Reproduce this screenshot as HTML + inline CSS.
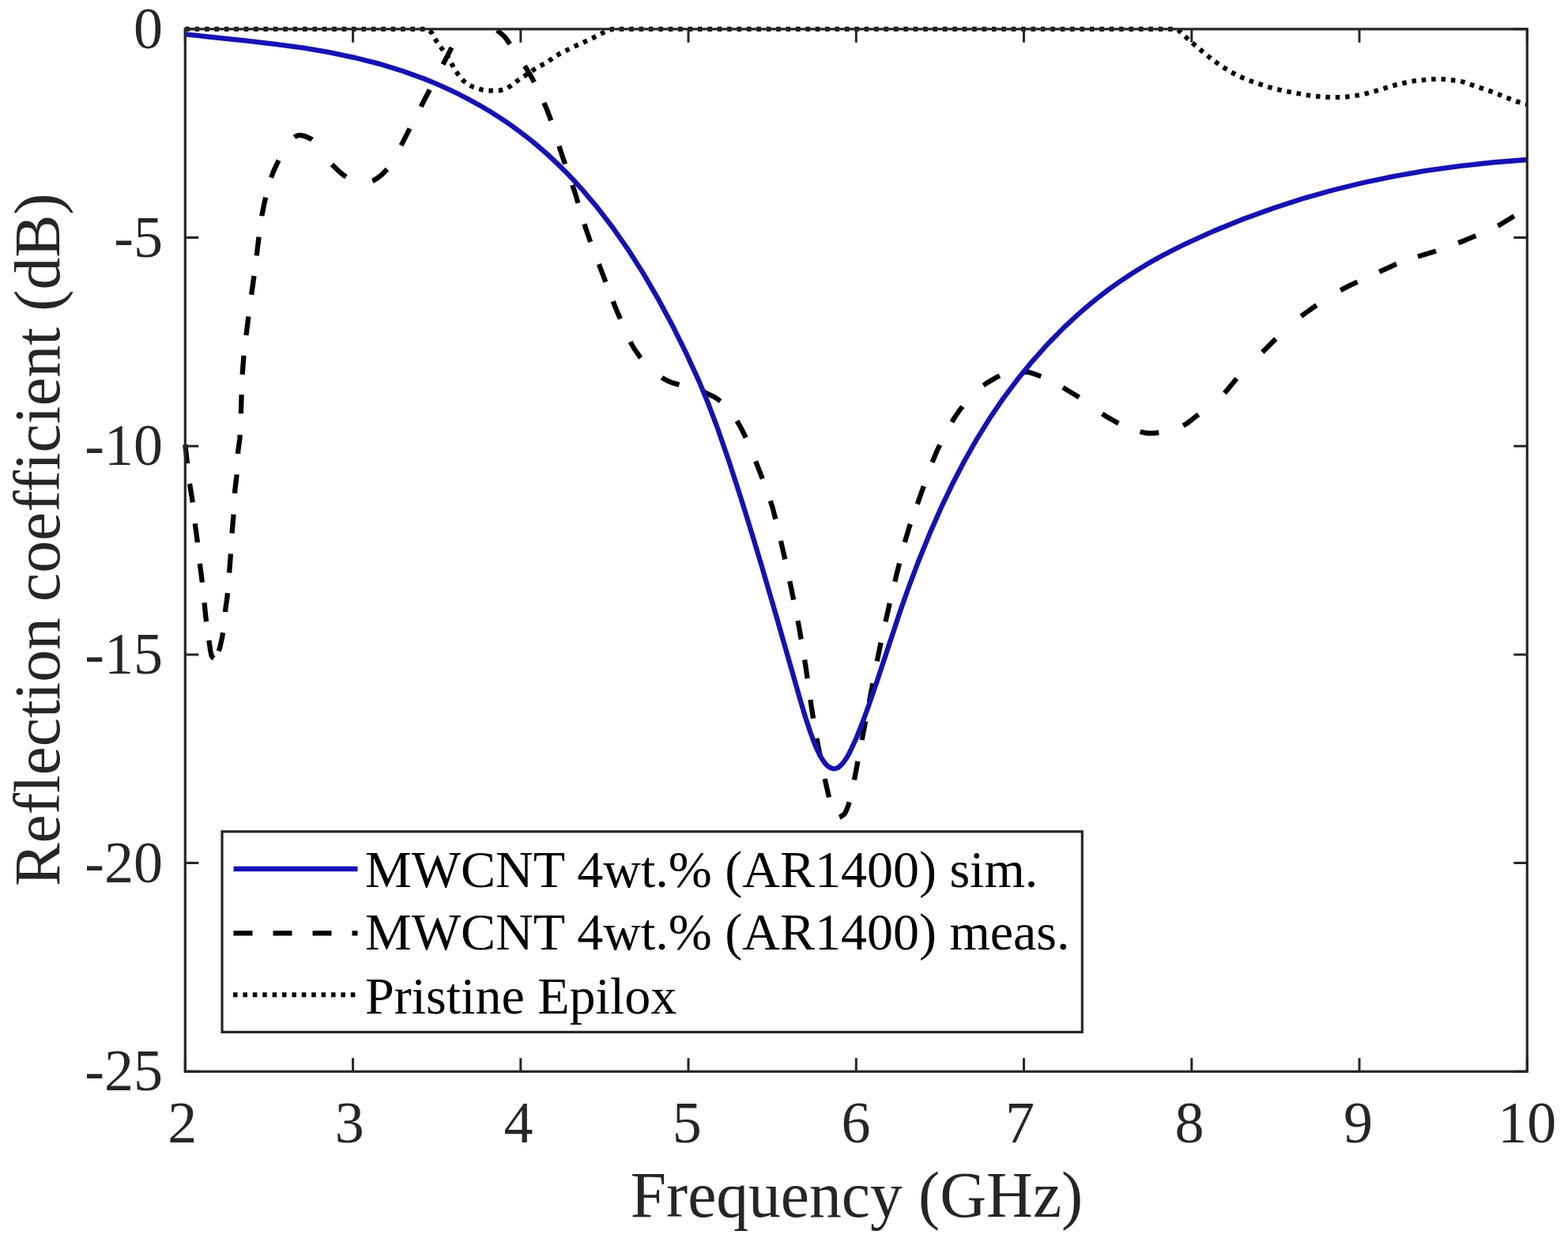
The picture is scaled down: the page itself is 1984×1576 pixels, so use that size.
<!DOCTYPE html>
<html><head><meta charset="utf-8"><title>Reflection coefficient</title>
<style>html,body{margin:0;padding:0;background:#fff;}svg{display:block;}</style>
</head><body><svg width="1984" height="1576" viewBox="0 0 1984 1576"><clipPath id="c"><rect x="230.8" y="36.8" width="1705.0" height="1322.0"/></clipPath><clipPath id="c2"><rect x="230.8" y="33.3" width="1705.0" height="1325.5"/></clipPath><path clip-path="url(#c2)" fill="none" d="M234.3,36.8 L540.3,36.8 L541.3,37.1 L543.3,38.5 L546.3,41.6 L550.3,48.8 L553.3,53.5 L566.3,71.5 L576.3,89.5 L582.3,97.5 L586.3,102.1 L591.3,106.1 L595.3,108.4 L599.3,110.2 L610.3,113.7 L614.3,114.5 L617.3,114.7 L632.3,114.5 L636.3,113.4 L642.3,111.1 L646.3,108.6 L654.3,102.4 L677.3,86.8 L682.3,83.8 L691.3,79.5 L701.3,72.1 L707.3,68.5 L724.3,59.9 L749.3,48.5 L762.3,41.7 L771.3,37.8 L775.3,36.8 L1488.3,36.8 L1489.3,37.1 L1491.3,38.4 L1495.3,42.4 L1513.3,58.3 L1532.3,74.1 L1544.3,82.8 L1557.3,91.0 L1569.3,97.1 L1584.3,103.2 L1605.3,110.2 L1622.3,114.5 L1651.3,119.9 L1663.3,121.7 L1684.3,123.1 L1698.3,123.1 L1711.3,121.6 L1724.3,119.5 L1744.3,114.0 L1764.3,107.8 L1785.3,103.0 L1792.3,102.0 L1809.3,100.4 L1817.3,100.1 L1826.3,100.3 L1844.3,102.0 L1852.3,103.9 L1890.3,117.0 L1916.3,127.5 L1924.3,130.0 L1932.3,132.0" stroke="#000" stroke-width="6" stroke-dasharray="5.5 6.9"/><g clip-path="url(#c)" fill="none" stroke-linejoin="round"><path d="M234.3,562.0 L239.3,607.7 L244.3,638.3 L247.3,666.4 L250.3,688.6 L253.3,716.5 L256.3,739.8 L260.3,780.0 L263.3,803.4 L266.3,823.3 L267.3,828.2 L268.3,830.4 L270.3,832.4 L271.3,832.9 L272.3,832.9 L273.3,832.0 L275.3,827.7 L278.3,818.9 L281.3,805.1 L282.3,798.9 L285.3,770.6 L287.3,757.0 L288.3,747.7 L292.3,696.1 L293.3,677.1 L295.3,653.7 L297.3,619.7 L299.3,603.3 L301.3,569.7 L303.3,555.6 L304.3,541.7 L306.3,478.0 L308.3,451.7 L310.3,433.4 L315.3,393.3 L322.3,342.7 L328.3,294.0 L331.3,272.9 L334.3,257.6 L338.3,240.7 L342.3,227.0 L346.3,216.1 L359.3,188.6 L361.3,184.8 L363.3,181.8 L369.3,175.9 L373.3,172.9 L377.3,171.2 L380.3,171.1 L384.3,171.8 L388.3,173.3 L394.3,176.2 L397.3,178.4 L402.3,184.2 L412.3,198.9 L417.3,205.3 L430.3,218.0 L435.3,222.0 L439.3,224.6 L448.3,229.4 L451.3,230.5 L454.3,231.0 L460.3,230.8 L468.3,229.8 L472.3,228.4 L477.3,225.5 L483.3,220.7 L491.3,212.7 L494.3,209.1 L497.3,204.1 L534.3,131.6 L568.3,66.5 L575.3,52.4 L581.3,38.1 L584.3,32.1 L586.3,29.7 L591.3,25.5 L595.3,23.1 L598.3,22.2 L601.3,22.0 L605.3,22.7 L610.3,24.4 L615.3,26.7 L618.3,28.9 L626.3,36.2 L635.3,43.4 L638.3,46.3 L641.3,50.0 L653.3,68.5 L664.3,84.1 L669.3,91.8 L677.3,106.3 L685.3,122.9 L693.3,141.8 L697.3,152.8 L710.3,193.9 L727.3,242.9 L741.3,289.3 L748.3,309.4 L778.3,387.9 L793.3,423.3 L798.3,433.7 L802.3,440.8 L810.3,452.3 L814.3,457.2 L819.3,462.7 L823.3,466.5 L829.3,471.6 L839.3,478.8 L845.3,482.0 L851.3,484.4 L871.3,489.8 L885.3,494.1 L893.3,497.0 L903.3,501.8 L907.3,504.3 L912.3,508.0 L917.3,512.4 L921.3,516.4 L927.3,524.1 L932.3,532.0 L938.3,542.5 L945.3,556.9 L954.3,578.5 L970.3,619.9 L977.3,641.3 L983.3,663.9 L995.3,716.2 L1006.3,768.9 L1011.3,794.5 L1019.3,841.9 L1026.3,891.4 L1029.3,910.3 L1035.3,943.9 L1042.3,979.5 L1049.3,1009.8 L1052.3,1020.2 L1057.3,1031.5 L1059.3,1033.8 L1061.3,1033.9 L1063.3,1033.2 L1065.3,1032.0 L1068.3,1029.7 L1069.3,1028.4 L1072.3,1021.9 L1076.3,1009.3 L1078.3,1000.1 L1109.3,838.5 L1115.3,809.4 L1125.3,765.0 L1134.3,727.2 L1144.3,687.6 L1150.3,667.3 L1178.3,587.8 L1184.3,573.2 L1193.3,554.0 L1203.3,535.6 L1208.3,527.5 L1214.3,518.8 L1220.3,510.8 L1225.3,504.9 L1230.3,499.7 L1237.3,493.2 L1243.3,488.2 L1249.3,484.0 L1261.3,477.0 L1269.3,473.4 L1274.3,472.1 L1286.3,470.8 L1297.3,470.4 L1302.3,470.9 L1308.3,472.7 L1321.3,477.7 L1328.3,480.9 L1337.3,485.6 L1362.3,500.6 L1389.3,519.8 L1399.3,526.4 L1415.3,535.5 L1426.3,540.7 L1443.3,546.2 L1448.3,547.4 L1453.3,548.0 L1460.3,547.8 L1469.3,546.8 L1477.3,545.6 L1484.3,543.7 L1494.3,539.9 L1501.3,535.9 L1517.3,523.5 L1533.3,511.9 L1540.3,506.2 L1545.3,501.7 L1549.3,497.5 L1566.3,477.1 L1573.3,469.5 L1613.3,429.5 L1629.3,414.4 L1640.3,404.7 L1650.3,397.0 L1664.3,387.1 L1683.3,374.7 L1695.3,367.6 L1707.3,361.4 L1723.3,353.8 L1767.3,333.8 L1786.3,326.9 L1816.3,317.8 L1830.3,313.0 L1854.3,303.7 L1883.3,291.4 L1897.3,284.6 L1915.3,273.6 L1932.3,264.0" stroke="#000" stroke-width="6.3" stroke-dasharray="0.0 0.4 24.0 25.8 24.0 26.9 24.0 26.9 24.0 25.9 24.0 24.0 24.0 12.3 24.0 26.3 24.0 25.8 24.0 26.1 24.0 26.6 24.0 26.4 24.0 26.9 24.0 25.5 24.0 25.7 24.0 27.9 24.0 25.7 24.0 26.8 24.0 25.8 24.0 36.1 24.0 40.2 24.0 35.2 24.0 35.1 24.0 31.1 24.0 36.2 24.0 30.1 24.0 30.1 24.0 33.3 24.0 28.8 24.0 34.0 24.0 27.9 24.0 27.7 24.0 30.1 24.0 26.2 24.0 31.9 24.0 36.7 24.0 32.5 24.0 32.8 24.0 32.2 24.0 29.6 24.0 28.3 24.0 28.3 24.0 26.9 24.0 26.3 24.0 27.1 24.0 25.4 24.0 28.2 24.0 30.4 24.0 28.7 24.0 27.4 24.0 24.9 24.0 28.5 24.0 27.2 24.0 28.0 24.0 27.5 24.0 26.8 24.0 32.1 24.0 32.6 24.0 37.7 24.0 29.8 24.0 31.1 24.0 35.7 24.0 29.4 24.0 32.2 24.0 42.7 24.0 46.6 24.0 42.9 24.0 35.7 24.0 30.3 24.0 28.6 24.0 30.0 24.0 30.6 24.0 119.2"/><path d="M234.3,43.4 L312.3,51.6 L348.3,55.8 L384.3,60.7 L416.3,66.1 L448.3,72.8 L479.3,80.6 L508.3,89.4 L536.3,99.5 L551.3,105.7 L565.3,111.8 L579.3,118.5 L593.3,125.7 L607.3,133.4 L620.3,141.1 L633.3,149.3 L645.3,157.5 L657.3,166.2 L669.3,175.4 L681.3,185.3 L692.3,194.9 L704.3,206.1 L715.3,216.9 L726.3,228.4 L737.3,240.5 L757.3,264.3 L776.3,289.2 L795.3,316.5 L814.3,346.4 L832.3,377.3 L850.3,410.7 L868.3,446.9 L884.3,481.9 L896.3,510.8 L908.3,542.7 L922.3,583.3 L937.3,629.4 L950.3,671.2 L963.3,714.4 L981.3,776.0 L1013.3,887.9 L1019.3,907.8 L1025.3,926.0 L1029.3,937.0 L1033.3,946.7 L1037.3,955.1 L1040.3,960.3 L1044.3,965.9 L1047.3,968.9 L1051.3,971.5 L1054.3,972.3 L1057.3,972.2 L1060.3,970.9 L1063.3,968.7 L1067.3,964.3 L1071.3,958.5 L1075.3,951.3 L1083.3,934.0 L1091.3,914.0 L1099.3,892.0 L1109.3,862.8 L1139.3,772.2 L1150.3,741.2 L1162.3,709.5 L1176.3,675.1 L1190.3,643.2 L1205.3,611.8 L1220.3,583.0 L1236.3,554.8 L1252.3,529.1 L1269.3,504.1 L1287.3,480.1 L1306.3,456.8 L1326.3,434.5 L1346.3,414.1 L1367.3,394.8 L1379.3,384.6 L1391.3,374.9 L1403.3,365.8 L1416.3,356.5 L1429.3,347.8 L1442.3,339.6 L1456.3,331.3 L1470.3,323.5 L1485.3,315.7 L1501.3,307.8 L1536.3,292.0 L1573.3,277.0 L1611.3,263.2 L1648.3,251.3 L1686.3,240.5 L1725.3,231.0 L1764.3,222.9 L1804.3,215.9 L1846.3,210.1 L1888.3,205.5 L1932.3,202.0" stroke="#1512b4" stroke-width="6.3"/></g><path d="M234.3,1355.3V1338.3M234.3,36.8V53.8M446.6,1355.3V1338.3M446.6,36.8V53.8M658.8,1355.3V1338.3M658.8,36.8V53.8M871.0,1355.3V1338.3M871.0,36.8V53.8M1083.3,1355.3V1338.3M1083.3,36.8V53.8M1295.5,1355.3V1338.3M1295.5,36.8V53.8M1507.8,1355.3V1338.3M1507.8,36.8V53.8M1720.0,1355.3V1338.3M1720.0,36.8V53.8M1932.3,1355.3V1338.3M1932.3,36.8V53.8M234.3,36.8H251.3M1932.3,36.8H1915.3M234.3,300.5H251.3M1932.3,300.5H1915.3M234.3,564.2H251.3M1932.3,564.2H1915.3M234.3,827.9H251.3M1932.3,827.9H1915.3M234.3,1091.6H251.3M1932.3,1091.6H1915.3M234.3,1355.3H251.3M1932.3,1355.3H1915.3" stroke="#262626" stroke-width="3" fill="none"/><rect x="234.3" y="36.8" width="1698.0" height="1318.5" fill="none" stroke="#262626" stroke-width="3.2"/><g font-family="'Liberation Serif', 'Times New Roman', serif" font-size="74" fill="#262626"><text x="230.8" y="1444.5" text-anchor="middle">2</text><text x="442.2" y="1444.5" text-anchor="middle">3</text><text x="656.0" y="1444.5" text-anchor="middle">4</text><text x="869.2" y="1444.5" text-anchor="middle">5</text><text x="1083.1" y="1444.5" text-anchor="middle">6</text><text x="1290.5" y="1444.5" text-anchor="middle">7</text><text x="1505.0" y="1444.5" text-anchor="middle">8</text><text x="1718.5" y="1444.5" text-anchor="middle">9</text><text x="1932.2" y="1444.5" text-anchor="middle">10</text><text x="206" y="60.8" text-anchor="end">0</text><text x="206" y="324.5" text-anchor="end">-5</text><text x="206" y="588.2" text-anchor="end">-10</text><text x="206" y="851.9" text-anchor="end">-15</text><text x="206" y="1115.6" text-anchor="end">-20</text><text x="206" y="1379.3" text-anchor="end">-25</text></g><text x="1084" y="1538.5" text-anchor="middle" font-family="'Liberation Serif', 'Times New Roman', serif" font-size="81.5" fill="#262626">Frequency (GHz)</text><text transform="translate(74.5,682.5) rotate(-90)" text-anchor="middle" font-family="'Liberation Serif', 'Times New Roman', serif" font-size="81.5" fill="#262626">Reflection coefficient (dB)</text><rect x="281" y="1051.8" width="1088.3" height="253.6" fill="#fff" stroke="#262626" stroke-width="3.2"/><path d="M295.5,1099H452.5" stroke="#1512b4" stroke-width="6.3"/><path d="M295.5,1180.3H452.5" stroke="#000" stroke-width="6.3" stroke-dasharray="24 26"/><path d="M295,1258.3H453" stroke="#000" stroke-width="6" stroke-dasharray="5.5 6.9"/><g font-family="'Liberation Serif', 'Times New Roman', serif" font-size="66" fill="#000"><text x="462" y="1122">MWCNT 4wt.% (AR1400) sim.</text><text x="462" y="1201">MWCNT 4wt.% (AR1400) meas.</text><text x="462" y="1281.5">Pristine Epilox</text></g></svg></body></html>
